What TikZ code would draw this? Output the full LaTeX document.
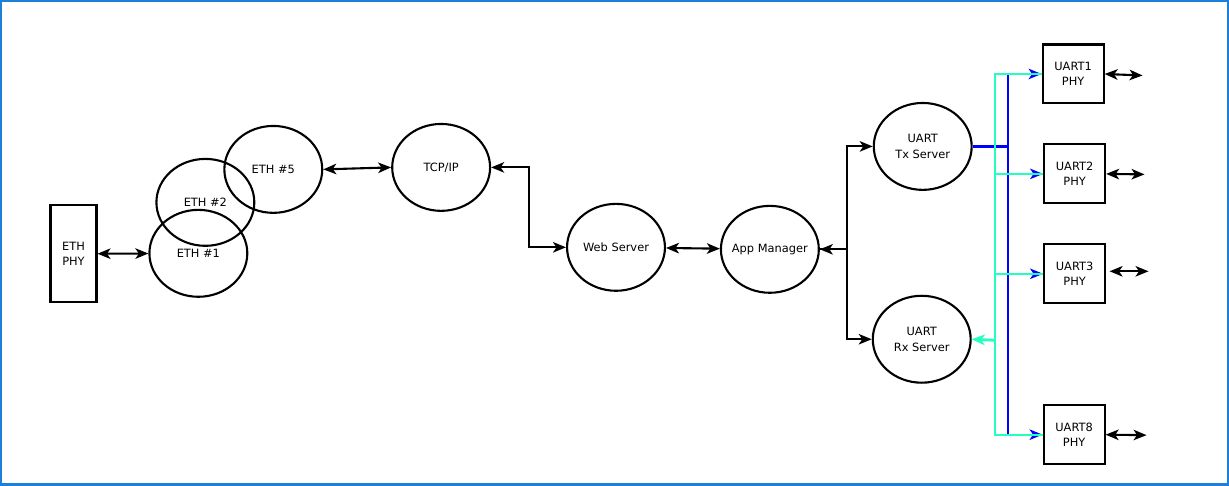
\documentclass[tikz,border=0pt]{standalone}
\usepackage{fontspec}
\setmainfont{DejaVu Sans}
\usetikzlibrary{shapes, arrows.meta, positioning}
\definecolor{frameblue}{HTML}{1C7FD9}
\definecolor{rxcyan}{HTML}{22FFBF}
\tikzstyle{oval} = [draw, ellipse, line width=1.2pt, minimum width=1.96cm, minimum height=1.74cm, inner sep=0pt, align=center, font=\fontsize{6.5pt}{8.9pt}\selectfont]
\tikzstyle{phy} = [draw, rectangle, line width=1.2pt, fill=white, inner sep=0pt, align=center, font=\fontsize{6.5pt}{8.9pt}\selectfont]
\tikzstyle{line} = [draw, line width=1.2pt, {Stealth[length=0.26cm, width=0.21cm, inset=0.07cm]}-{Stealth[length=0.26cm, width=0.21cm, inset=0.07cm]}]
\tikzstyle{tx} = [draw, blue, line width=1.2pt, -{Stealth[length=0.26cm, width=0.21cm, inset=0.07cm]}]
\tikzstyle{rx} = [draw, rxcyan, line width=1.2pt]
\begin{document}
\begin{tikzpicture}[x=0.02cm, y=-0.02cm]
	\draw [frameblue, line width=1.3pt] (0.6,0.6) rectangle (1228.4,484.4);
	\useasboundingbox (0,0) rectangle (1229,485);

	\node [phy, minimum width=0.92cm, minimum height=1.94cm] (ethphy) at (73,253.5) {ETH\\PHY};
	\node [oval] (eth1) at (198,253) {ETH \#1};
	\node [oval] (eth2) at (205,202) {ETH \#2};
	\node [oval] (eth5) at (273,169) {ETH \#5};
	\node [oval] (tcpip) at (441,167) {TCP/IP};
	\node [oval] (web) at (616,247) {Web Server};
	\node [oval, inner xsep=-2pt] (app) at (770,249) {App Manager};
	\node [oval] (txsrv) at (923,146) {UART\\Tx Server};
	\node [oval] (rxsrv) at (922,339) {UART\\Rx Server};

	\node [phy, minimum width=1.22cm, minimum height=1.18cm] (uart1) at (1073.5,73.5) {UART1\\PHY};
	\node [phy, minimum width=1.22cm, minimum height=1.18cm] (uart2) at (1075,173.5) {UART2\\PHY};
	\node [phy, minimum width=1.22cm, minimum height=1.18cm] (uart3) at (1075,273.5) {UART3\\PHY};
	\node [phy, minimum width=1.22cm, minimum height=1.18cm] (uart8) at (1074.5,434.5) {UART8\\PHY};

	\coordinate (out1) at (1143,75);
	\coordinate (out2) at (1145,174);
	\coordinate (out3) at (1149,271);
	\coordinate (out8) at (1147,435);
	\coordinate (in3) at (1110,271);
	\coordinate (txbus) at (1008,146);
	\coordinate (rxbus) at (995,340);

	\path [line] (ethphy) -- (eth1);
	\path [line] (eth5.east) -- (tcpip.west);
	\path [line] (tcpip.east) -| (529,247) -- (web.west);
	\path [line] (web) -- (app);
	\path [line] (app.east) -| (847,146) -- (txsrv.west);
	\draw [line width=1.2pt, -{Stealth[length=0.26cm, width=0.21cm, inset=0.07cm]}] (app.east) -| (847,339) -- (rxsrv.west);

	% transmit bus
	\draw [blue, line width=2pt] (txsrv.east) -- (txbus);
	\draw [blue, line width=1.3pt] (uart1.west -| txbus) -- (uart8.west -| txbus);
	\path [tx] (uart1.west -| txbus) -- (uart1.west);
	\path [tx] (uart2.west -| txbus) -- (uart2.west);
	\path [tx] (uart3.west -| txbus) -- (uart3.west);
	\path [tx] (uart8.west -| txbus) -- (uart8.west);

	% receive bus
	\path [rx] (uart1.west) -| (rxbus);
	\path [rx] (uart8.west) -| (rxbus);
	\path [rx] (uart2.west) -- (uart2.west -| rxbus);
	\path [rx] (uart3.west) -- (uart3.west -| rxbus);
	\draw [rxcyan, line width=1.6pt, -{Stealth[length=0.26cm, width=0.21cm, inset=0.07cm]}] (rxbus) -- (rxsrv.east);

	\path [line] (uart1.east) -- (out1);
	\path [line] (uart2.east) -- (out2);
	\path [line] (in3) -- (out3);
	\path [line] (uart8.east) -- (out8);
\end{tikzpicture}
\end{document}
